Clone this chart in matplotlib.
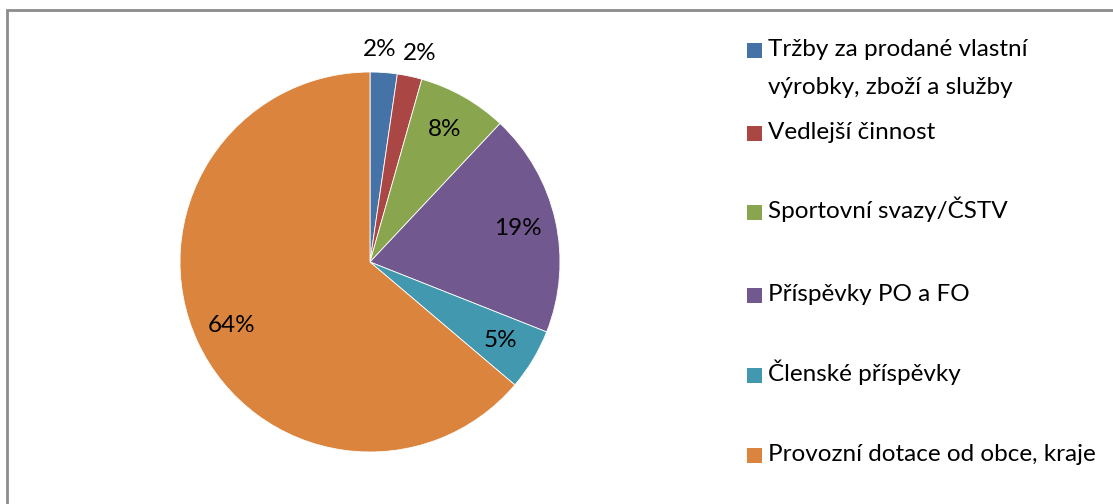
import numpy as np
import matplotlib.pyplot as plt
from matplotlib.patches import Rectangle
from matplotlib.transforms import offset_copy

# data
kategorie = ["Tržby za prodané vlastní\nvýrobky, zboží a služby",
             "Vedlejší činnost",
             "Sportovní svazy/ČSTV",
             "Příspěvky PO a FO",
             "Členské příspěvky",
             "Provozní dotace od obce, kraje"]
podil = [2.3, 2.1, 7.6, 19.0, 5.2, 63.8]
barvy = ["#4572A7", "#AA4643", "#89A54E", "#71588F", "#4198AF", "#DB843D"]

plt.rcParams['font.family'] = ['Lato', 'DejaVu Sans']
FS = 17.5
W, H = 1113, 504
fig = plt.figure(figsize=(W / 100, H / 100), dpi=100)

# ramecek grafu
fig.add_artist(Rectangle((7 / W, -0.1), 1.2, 1 - 10 / H + 0.1, transform=fig.transFigure,
                         fill=False, edgecolor="#8c8c8c", linewidth=2))

cx, cy, r = 370, 262, 190
ax = fig.add_axes([(cx - r) / W, (H - cy - r) / H, 2 * r / W, 2 * r / H])
wedges, texts, autotexts = ax.pie(podil, colors=barvy, startangle=90, counterclock=False,
                                  autopct='%1.0f%%', pctdistance=0.8,
                                  wedgeprops=dict(linewidth=0.6, edgecolor='white'),
                                  textprops=dict(fontsize=FS, color='black'))
ax.set_xlim(-1, 1)
ax.set_ylim(-1, 1)

# male vysece - popisky ven
for w, t, dx in zip(wedges[:2], autotexts[:2], [-6, 5]):
    ang = np.deg2rad((w.theta1 + w.theta2) / 2)
    t.set_position((1.12 * np.cos(ang), 1.12 * np.sin(ang)))
    t.set_transform(offset_copy(ax.transData, fig=fig, x=dx, y=0, units='dots'))

# legenda
radky = [50, 133, 212, 295, 375, 455]
for lab, c, y in zip(kategorie, barvy, radky):
    fig.add_artist(Rectangle((747 / W, 1 - (y + 8) / H), 15 / W, 15 / H,
                             transform=fig.transFigure, facecolor=c, edgecolor='none'))
    for i, radek in enumerate(lab.split('\n')):
        fig.text(768 / W, 1 - (y + 6 + 38 * i) / H, radek, fontsize=FS,
                 va='baseline', ha='left')

fig.savefig("out.png", dpi=100)
